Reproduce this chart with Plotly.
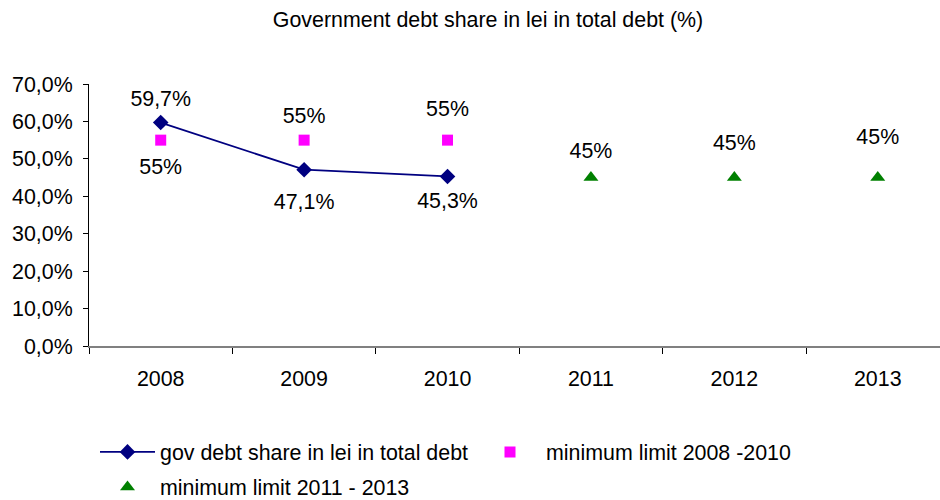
import plotly.graph_objects as go

# Years on the category axis
years = ["2008", "2009", "2010", "2011", "2012", "2013"]

# Government debt share in lei in total debt (%)
gov_years = ["2008", "2009", "2010"]
gov_share = [59.7, 47.1, 45.3]

# Minimum limit 2008-2010 (%)
limit1_years = ["2008", "2009", "2010"]
limit1_vals = [55, 55, 55]

# Minimum limit 2011-2013 (%)
limit2_years = ["2011", "2012", "2013"]
limit2_vals = [45, 45, 45]

y_ticks = [0, 10, 20, 30, 40, 50, 60, 70]

FONT = "Liberation Sans, Arial, sans-serif"
FS = 21.4
W, H = 940, 500
M_L, M_R, M_T, M_B = 89, 0, 84, 154
PW, PH = W - M_L - M_R, H - M_T - M_B


def pct_label(v):
    return f"{v:g}".replace(".", ",") + "%"


def tick_label(v):
    return f"{v:.1f}".replace(".", ",") + "%"


def pad_size(dist, above):
    # invisible marker size that puts the label centre `dist` px from its point
    r = dist - (0.608 if above else 0.392) * FS
    return max(1.6 * (r - 1), 0.1)


fig = go.Figure()

fig.add_trace(go.Scatter(
    x=gov_years, y=gov_share, mode="lines+markers",
    name="gov debt share in lei in total debt",
    line=dict(color="#000080", width=1.8),
    marker=dict(symbol="diamond", size=12, color="#000080"),
    legend="legend",
))
fig.add_trace(go.Scatter(
    x=limit1_years, y=limit1_vals, mode="markers",
    name="minimum limit 2008 -2010",
    marker=dict(symbol="square", size=11, color="#FF00FF"),
    legend="legend2",
))
fig.add_trace(go.Scatter(
    x=limit2_years, y=limit2_vals, mode="markers",
    name="minimum limit 2011 - 2013",
    marker=dict(symbol="triangle-up", size=13, color="#008000"),
    legend="legend3",
))

# Value labels: (distance px, above?) for each point
label_layout = [
    (gov_years, gov_share, [(24, True), (31.5, False), (23.5, False)]),
    (limit1_years, limit1_vals, [(26, False), (24.3, True), (31.3, True)]),
    (limit2_years, limit2_vals, [(27.5, True), (35.5, True), (41, True)]),
]
for xs, ys, place in label_layout:
    fig.add_trace(go.Scatter(
        x=xs, y=ys, mode="markers+text",
        text=[pct_label(v) for v in ys],
        textposition=["top center" if up else "bottom center" for _, up in place],
        textfont=dict(family=FONT, size=FS, color="#000000"),
        marker=dict(size=[pad_size(d, up) for d, up in place], opacity=0),
        showlegend=False, hoverinfo="skip",
    ))


def legend_at(px, py, item_w):
    # position given in page pixels, converted to paper fractions
    return dict(orientation="h",
                x=(px - M_L) / PW, xanchor="left",
                y=(H - M_B - py) / PH, yanchor="middle",
                itemwidth=item_w,
                font=dict(family=FONT, size=FS, color="#000000"),
                bgcolor="rgba(0,0,0,0)")


fig.update_layout(
    width=W, height=H,
    margin=dict(l=M_L, r=M_R, t=M_T, b=M_B, autoexpand=False),
    paper_bgcolor="white", plot_bgcolor="white",
    font=dict(family=FONT, size=FS, color="#000000"),
    title=dict(text="Government debt share in lei in total debt (%)",
               x=488 / W, xanchor="center", xref="container",
               y=1 - 20 / H, yanchor="middle", yref="container",
               font=dict(family=FONT, size=FS, color="#000000")),
    showlegend=True,
    legend=legend_at(95, 452, 55),
    legend2=legend_at(474, 452, 62),
    legend3=legend_at(95, 487, 55),
)

fig.update_xaxes(
    type="category", categoryorder="array", categoryarray=years,
    range=[-0.5, 5.434], showgrid=False, zeroline=False,
    showline=True, linecolor="#808080", linewidth=2,
    ticks="outside", tickson="boundaries", ticklen=6, tickcolor="#000000",
    tickfont=dict(family=FONT, size=FS, color="#000000"),
    ticklabelstandoff=12,
)
fig.update_yaxes(
    range=[0, 70], tickmode="array", tickvals=y_ticks,
    ticktext=[tick_label(v) for v in y_ticks],
    showgrid=False, zeroline=False,
    showline=True, linecolor="#000000", linewidth=1,
    ticks="outside", ticklen=5, tickcolor="#000000",
    tickfont=dict(family=FONT, size=FS, color="#000000"),
    ticklabelstandoff=6,
)

fig.write_html("out.html")
